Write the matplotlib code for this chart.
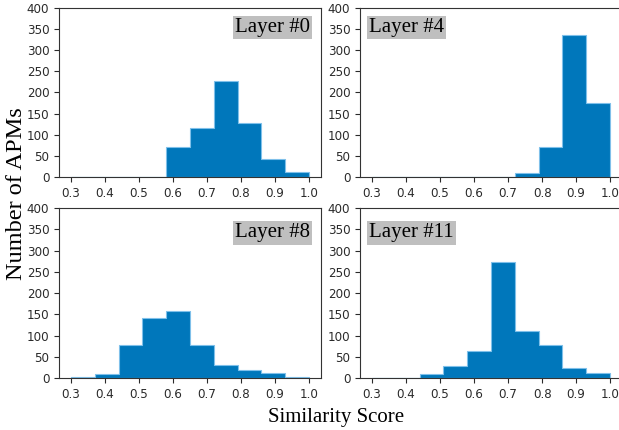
import matplotlib
matplotlib.use("Agg")
import matplotlib.pyplot as plt

# histogram bin edges shared by all layers
bin_edges = [0.30, 0.37, 0.44, 0.51, 0.58, 0.65, 0.72, 0.79, 0.86, 0.93, 1.00]

layer_names = ["Layer #0", "Layer #4", "Layer #8", "Layer #11"]
counts_l0 = [0, 0, 0, 0, 70, 117, 228, 128, 42, 11]
counts_l4 = [0, 0, 0, 0, 0, 0, 9, 71, 335, 176]
counts_l8 = [3, 10, 78, 141, 157, 78, 31, 19, 12, 3]
counts_l11 = [0, 0, 10, 28, 63, 273, 111, 78, 23, 12]

x_ticks = [0.3, 0.4, 0.5, 0.6, 0.7, 0.8, 0.9, 1.0]
y_ticks = [0, 50, 100, 150, 200, 250, 300, 350, 400]

fig = plt.figure(figsize=(6.19, 4.30), dpi=100)

# axes boxes in figure fractions (right column runs a bit past the edge, like the crop)
boxes = [
    [0.0953, 0.5884, 0.4233, 0.393],
    [0.5816, 0.5884, 0.4233, 0.393],
    [0.0953, 0.1209, 0.4233, 0.395],
    [0.5816, 0.1209, 0.4233, 0.395],
]
label_pos = [(0.958, 0.94, "right"), (0.035, 0.94, "left"),
             (0.958, 0.91, "right"), (0.035, 0.91, "left")]

all_counts = [counts_l0, counts_l4, counts_l8, counts_l11]
for i in range(0, 4):
    ax = fig.add_axes(boxes[i])
    ax.hist(bin_edges[:-1], bins=bin_edges, weights=all_counts[i],
            histtype="stepfilled", facecolor="#0077bb",
            edgecolor="#7fc0ea", linewidth=0.8)
    ax.set_xlim(0.265, 1.035)
    ax.set_ylim(0, 400)
    ax.set_xticks(x_ticks)
    ax.set_yticks(y_ticks)
    ax.tick_params(labelsize=8.6, colors="#2a2a2a")
    for s in ax.spines.values():
        s.set_color("#333333")
        s.set_linewidth(0.8)
    lx, ly, ha = label_pos[i]
    ax.text(lx, ly, layer_names[i], transform=ax.transAxes, ha=ha, va="top",
            fontsize=15, family="Liberation Serif",
            bbox=dict(facecolor="#bfbfbf", edgecolor="none", pad=1.5))

fig.text(0.026, 0.55, "Number of APMs", rotation=90, ha="center", va="center",
         fontsize=17.5, family="Liberation Serif")
fig.text(0.543, 0.03, "Similarity Score", ha="center", va="center",
         fontsize=15, family="Liberation Serif")

fig.savefig("out.png", dpi=100)
